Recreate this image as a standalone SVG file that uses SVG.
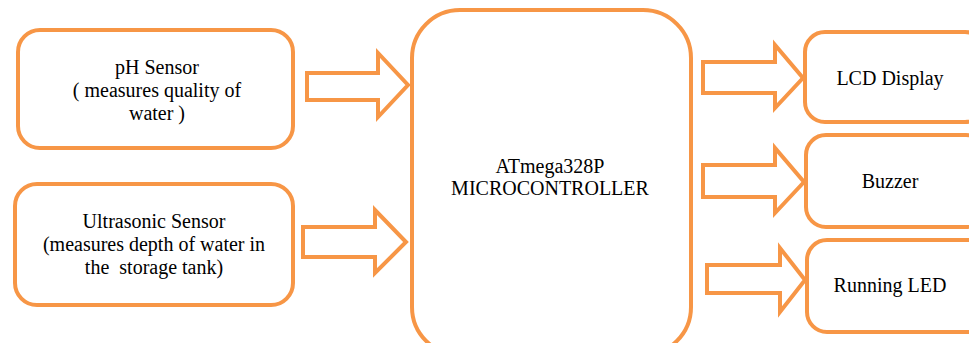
<svg xmlns="http://www.w3.org/2000/svg" width="969" height="343" viewBox="0 0 969 343">
<style>
.box{fill:#fff;stroke:#F79646;stroke-width:4}
.arr{fill:#fff;stroke:#F79646;stroke-width:4;stroke-linejoin:miter}
text{font-family:"Liberation Serif","Times New Roman",serif;font-size:20px;fill:#000;text-anchor:middle}
</style>
<rect width="969" height="343" fill="#fff"/>
<g id="connectors">
<polygon class="arr" points="307,73 378,73 378,53 408,85 378,117 378,100 307,100"/>
<polygon class="arr" points="303,227 375,227 375,210 406,242 375,273 375,257 303,257"/>
<polygon class="arr" points="703,62 775,62 775,45 803,78 775,108 775,93 703,93"/>
<polygon class="arr" points="703,165 775,165 775,148 804,182 775,213 775,197 703,197"/>
<polygon class="arr" points="707,265 780,265 780,248 805,280 780,312 780,293 707,293"/>
</g>
<g id="ph">
<rect class="box" x="18" y="30" width="275" height="118" rx="22"/>
<text x="157" y="74">pH Sensor</text>
<text x="157" y="97">( measures quality of</text>
<text x="157" y="120">water )</text>
</g>
<g id="ultrasonic">
<rect class="box" x="15" y="184" width="278" height="121" rx="22"/>
<text x="154" y="228">Ultrasonic Sensor</text>
<text x="154" y="251">(measures depth of water in</text>
<text x="154" y="274" xml:space="preserve">the  storage tank)</text>
</g>
<g id="mcu">
<rect class="box" x="412" y="10" width="279" height="345" rx="48"/>
<text x="550" y="173">ATmega328P</text>
<text x="550" y="195">MICROCONTROLLER</text>
</g>
<g id="lcd">
<rect class="box" x="805" y="32" width="180" height="90" rx="20"/>
<text x="890" y="85">LCD Display</text>
</g>
<g id="buzzer">
<rect class="box" x="806" y="135" width="180" height="92" rx="20"/>
<text x="890" y="188">Buzzer</text>
</g>
<g id="led">
<rect class="box" x="807" y="240" width="180" height="92" rx="20"/>
<text x="890" y="292">Running LED</text>
</g>
</svg>
